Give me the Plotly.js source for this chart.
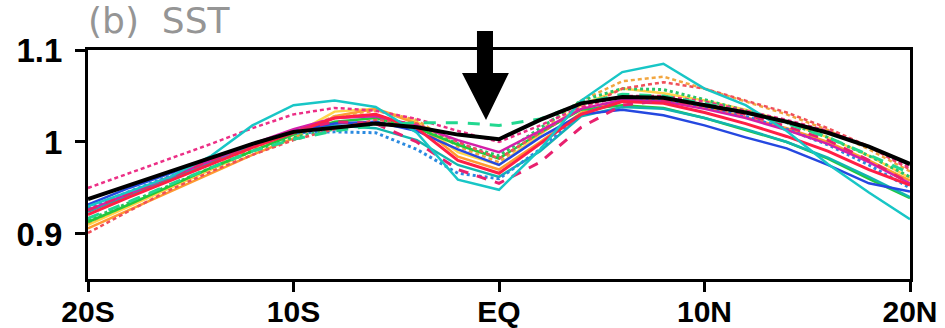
<!DOCTYPE html>
<html>
<head>
<meta charset="utf-8">
<script src="https://cdn.plot.ly/plotly-3.0.1.min.js"></script>
<style>html,body{margin:0;padding:0;background:#fff}#chart{width:945px;height:328px}</style>
</head>
<body>
<div id="chart"></div>
<script>
// Latitude (degrees, negative = south)
const lat = [-20,-18,-16,-14,-12,-10,-8,-6,-4,-2,0,2,4,6,8,10,12,14,16,18,20];
const xTickVals = [-20,-10,0,10,20];
const xTickText = ['20S','10S','EQ','10N','20N'];
const yTickVals = [0.9,1,1.1];
const yTickText = ['0.9','1','1.1'];

// Model curves (normalized SST)
const cyanSolid    = [0.930,0.946,0.962,0.985,1.018,1.040,1.045,1.038,1.010,0.959,0.948,0.992,1.045,1.076,1.085,1.058,1.040,1.012,0.976,0.945,0.916];
const magentaShort = [0.950,0.966,0.982,0.998,1.015,1.030,1.037,1.034,1.025,1.012,1.000,1.018,1.038,1.050,1.050,1.044,1.034,1.024,1.012,0.995,0.972];
const redShort     = [0.901,0.925,0.948,0.968,0.986,1.002,1.014,1.024,1.020,1.000,0.982,1.010,1.036,1.058,1.065,1.058,1.045,1.032,1.015,0.995,0.970];
const greenLong    = [0.917,0.935,0.954,0.972,0.990,1.003,1.012,1.018,1.021,1.021,1.018,1.025,1.042,1.052,1.050,1.042,1.032,1.020,1.005,0.986,0.966];
const blueSolid    = [0.932,0.950,0.966,0.982,0.998,1.012,1.020,1.022,1.012,0.992,0.975,1.005,1.030,1.035,1.029,1.018,1.005,0.993,0.975,0.955,0.946];
const redSolid     = [0.921,0.940,0.958,0.976,0.994,1.010,1.026,1.030,1.015,0.980,0.966,0.998,1.030,1.044,1.042,1.032,1.020,1.006,0.990,0.970,0.953];
const greenSolid   = [0.913,0.932,0.952,0.972,0.990,1.008,1.022,1.026,1.015,0.997,0.982,1.010,1.035,1.040,1.037,1.026,1.013,1.000,0.982,0.960,0.939];
const yellowSolid  = [0.910,0.930,0.950,0.970,0.990,1.008,1.033,1.036,1.022,0.989,0.975,1.008,1.040,1.058,1.053,1.045,1.035,1.022,1.005,0.985,0.961];
const orangeSolid  = [0.906,0.926,0.946,0.966,0.986,1.004,1.028,1.036,1.020,0.984,0.970,1.000,1.032,1.046,1.046,1.038,1.027,1.015,1.000,0.980,0.958];
const blueDot      = [0.928,0.946,0.963,0.980,0.996,1.010,1.011,1.010,0.992,0.966,0.960,0.992,1.030,1.046,1.046,1.038,1.028,1.014,0.997,0.975,0.950];
const magentaLong  = [0.926,0.944,0.962,0.980,0.997,1.012,1.022,1.020,1.000,0.970,0.955,0.978,1.016,1.040,1.045,1.040,1.030,1.017,1.002,0.980,0.955];
const magentaSolid = [0.926,0.944,0.962,0.980,0.998,1.014,1.026,1.028,1.018,1.002,0.989,1.012,1.036,1.046,1.044,1.036,1.026,1.013,0.998,0.978,0.955];
const orangeDash   = [0.912,0.932,0.952,0.972,0.992,1.010,1.028,1.034,1.024,0.995,0.978,1.012,1.045,1.066,1.071,1.058,1.044,1.030,1.013,0.992,0.968];
const greenDot     = [0.915,0.934,0.953,0.972,0.990,1.005,1.014,1.022,1.018,0.998,0.985,1.015,1.045,1.058,1.057,1.046,1.034,1.021,1.005,0.985,0.962];
const tealSolid    = [0.924,0.942,0.960,0.978,0.996,1.012,1.018,1.015,1.002,0.975,0.962,0.990,1.028,1.038,1.036,1.026,1.014,1.000,0.983,0.962,0.940];
// Reference (thick black)
const blackRef     = [0.938,0.953,0.968,0.983,0.998,1.011,1.016,1.020,1.016,1.008,1.003,1.024,1.042,1.049,1.048,1.040,1.032,1.022,1.010,0.995,0.976];

const series = [
  {y: yellowSolid,  color:'#ffd54a', dash:'solid', w:2.5},
  {y: orangeSolid,  color:'#ff9a30', dash:'solid', w:2.5},
  {y: orangeDash,   color:'#f2a640', dash:'4px,3px', w:2.5},
  {y: greenDot,     color:'#28c468', dash:'dot', w:3},
  {y: greenSolid,   color:'#22c83c', dash:'solid', w:2.5},
  {y: tealSolid,    color:'#12b6ae', dash:'solid', w:2.5},
  {y: blueSolid,    color:'#2548e0', dash:'solid', w:2.5},
  {y: blueDot,      color:'#2a8ae0', dash:'dot', w:3},
  {y: redShort,     color:'#f0505a', dash:'4px,3px', w:2.5},
  {y: magentaSolid, color:'#d41fa8', dash:'solid', w:2.5},
  {y: redSolid,     color:'#ff1f45', dash:'solid', w:3},
  {y: magentaLong,  color:'#e8206e', dash:'10px,9px', w:3},
  {y: magentaShort, color:'#ec2f86', dash:'4px,3px', w:2.5},
  {y: cyanSolid,    color:'#18c6c6', dash:'solid', w:2.5},
  {y: greenLong,    color:'#22d890', dash:'12px,10px', w:3},
  {y: blackRef,     color:'#000000', dash:'solid', w:4}
];

const traces = series.map(s => ({
  x: lat, y: s.y, type:'scatter', mode:'lines',
  line:{color:s.color, width:s.w, dash:s.dash, shape:'linear'},
  hoverinfo:'skip', showlegend:false
}));

const layout = {
  width:945, height:328,
  margin:{l:88, r:35, t:50, b:49},
  paper_bgcolor:'#fff', plot_bgcolor:'#fff',
  showlegend:false,
  xaxis:{
    range:[-20,20], tickvals:xTickVals, ticktext:xTickText,
    ticks:'outside', ticklen:10, tickwidth:3, tickcolor:'#000',
    showline:true, linecolor:'#000', linewidth:3, mirror:true,
    showgrid:false, zeroline:false, ticklabelstandoff:-6,
    tickfont:{family:'Liberation Sans, Arial, sans-serif', size:30, color:'#000', weight:'bold'}
  },
  yaxis:{
    range:[0.851,1.1], tickvals:yTickVals, ticktext:yTickText,
    ticks:'outside', ticklen:10, tickwidth:3, tickcolor:'#000',
    showline:true, linecolor:'#000', linewidth:3, mirror:true,
    showgrid:false, zeroline:false, ticklabelstandoff:6,
    tickfont:{family:'Liberation Sans, Arial, sans-serif', size:33, color:'#000', weight:'bold'}
  },
  annotations:[{
    xref:'paper', yref:'paper', x:-0.002, y:1.128, xanchor:'left', yanchor:'middle',
    text:'(b)  SST', showarrow:false,
    font:{family:'DejaVu Sans, sans-serif', size:36, color:'#959595'}
  }],
  shapes:[{
    type:'path', xref:'paper', yref:'paper', layer:'above',
    path:'M 0.4732 1.083 L 0.4927 1.083 L 0.4927 0.900 L 0.512 0.900 L 0.4842 0.694 L 0.455 0.900 L 0.4732 0.900 Z',
    fillcolor:'#000', line:{color:'#000', width:0}
  }]
};

Plotly.newPlot('chart', traces, layout, {displayModeBar:false, staticPlot:true});
</script>
</body>
</html>
